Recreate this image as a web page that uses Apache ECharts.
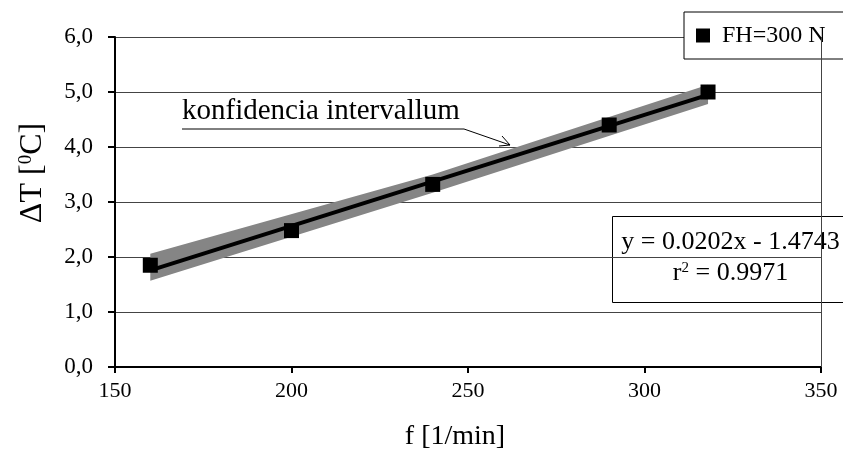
<!DOCTYPE html>
<html>
<head>
<meta charset="utf-8">
<script src="https://cdn.jsdelivr.net/npm/echarts@6/dist/echarts.min.js"></script>
<style>
  html, body { margin: 0; padding: 0; background: #fff; }
  #chart { width: 843px; height: 453px; }
</style>
</head>
<body>
<div id="chart"></div>
<script>
// Measured points: frequency f [1/min] vs temperature rise ΔT [°C]
const freq = [160, 200, 240, 290, 318];
const deltaT = [1.85, 2.48, 3.32, 4.40, 5.00];

// Linear fit y = a·x + b
const slope = 0.0202;
const intercept = -1.4743;
const rSquared = 0.9971;
const fitRange = [160, 318];

// Confidence band around the fit (lower / upper bound)
const bandX = [160, 240, 318];
const bandLow = [1.57, 3.17, 4.78];
const bandHigh = [2.06, 3.50, 5.13];

// Axis ticks
const xTicks = [150, 200, 250, 300, 350];
const yTicks = [0, 1, 2, 3, 4, 5, 6];

const serif = "'Liberation Serif', 'Times New Roman', serif";

const chart = echarts.init(document.getElementById('chart'), null, { renderer: 'canvas' });

const fitData = fitRange.map(x => [x, +(slope * x + intercept).toFixed(4)]);
const bandData = bandX.map((x, i) => [x, bandLow[i], bandHigh[i]]);

chart.setOption({
  animation: false,
  backgroundColor: '#fff',
  grid: { left: 115, right: 22, top: 37, bottom: 86, show: false },
  legend: {
    data: [{ name: 'FH=300 N', icon: 'rect' }],
    left: 684, top: 12,
    itemWidth: 14, itemHeight: 14, itemGap: 6,
    padding: [10, 40, 10, 12],
    borderColor: '#000', borderWidth: 1,
    backgroundColor: '#fff',
    textStyle: { fontFamily: serif, fontSize: 24, lineHeight: 27, color: '#000', padding: [0, 0, 0, 7] }
  },
  xAxis: {
    type: 'value',
    min: xTicks[0], max: xTicks[xTicks.length - 1], interval: 50,
    axisLine: { show: true, onZero: false, lineStyle: { color: '#000', width: 2 } },
    axisTick: { show: true, inside: false, length: 6, lineStyle: { color: '#000', width: 2 } },
    axisLabel: { fontFamily: serif, fontSize: 22, color: '#000', margin: 13 },
    splitLine: { show: false }
  },
  yAxis: {
    type: 'value',
    min: yTicks[0], max: yTicks[yTicks.length - 1], interval: 1,
    axisLine: { show: true, onZero: false, lineStyle: { color: '#000', width: 2 } },
    axisTick: { show: true, inside: false, length: 7, lineStyle: { color: '#000', width: 2 } },
    axisLabel: {
      fontFamily: serif, fontSize: 23, color: '#000', margin: 22,
      formatter: v => v.toFixed(1).replace('.', ',')
    },
    splitLine: { show: true, lineStyle: { color: '#444', width: 1 } }
  },
  series: [
    {
      // plot area right border
      type: 'line', silent: true, symbol: 'none',
      data: [],
      markLine: {
        silent: true, symbol: 'none', label: { show: false },
        lineStyle: { color: '#444', width: 1, type: 'solid' },
        data: [[{ coord: [350, 0] }, { coord: [350, 6] }]]
      }
    },
    {
      type: 'custom',
      name: 'band',
      silent: true,
      z: 2,
      data: bandData,
      renderItem: function (params, api) {
        if (params.dataIndex !== 0) return;
        const upper = bandData.map(d => api.coord([d[0], d[2]]));
        const lower = bandData.map(d => api.coord([d[0], d[1]])).reverse();
        return {
          type: 'polygon',
          shape: { points: upper.concat(lower) },
          style: { fill: '#858585' }
        };
      }
    },
    {
      type: 'line',
      name: 'fit',
      data: fitData,
      symbol: 'none',
      z: 3,
      lineStyle: { color: '#000', width: 4 }
    },
    {
      type: 'scatter',
      name: 'FH=300 N',
      data: freq.map((x, i) => [x, deltaT[i]]),
      symbol: 'rect',
      symbolSize: 15,
      z: 4,
      itemStyle: { color: '#000', opacity: 1 }
    }
  ],
  graphic: [
    // axis titles
    {
      type: 'text', x: 33, y: 173, rotation: Math.PI / 2,
      style: {
        text: '{n|ΔT [}{s|0}{n|C]}',
        align: 'center', verticalAlign: 'middle',
        rich: {
          n: { font: '32px ' + serif, fill: '#000' },
          s: { font: '19px ' + serif, fill: '#000', verticalAlign: 'top', padding: [0, 0, 14, 0] }
        }
      }
    },
    {
      type: 'text', x: 455, y: 437,
      style: { text: 'f [1/min]', font: '28px ' + serif, fill: '#000', align: 'center', verticalAlign: 'middle' }
    },
    // regression equation box
    {
      type: 'group', left: 612, top: 216,
      children: [
        { type: 'rect', shape: { x: 0, y: 0, width: 260, height: 86 },
          style: { fill: '#fff', stroke: '#000', lineWidth: 1 } },
        { type: 'text', x: 118, y: 26,
          style: { text: 'y = ' + slope.toFixed(4) + 'x - ' + Math.abs(intercept).toFixed(4),
                   font: '26px ' + serif, fill: '#000', align: 'center', verticalAlign: 'middle' } },
        { type: 'text', x: 118, y: 57,
          style: {
            text: '{n|r}{s|2}{n| = ' + rSquared.toFixed(4) + '}',
            align: 'center', verticalAlign: 'middle',
            rich: {
              n: { font: '26px ' + serif, fill: '#000' },
              s: { font: '15px ' + serif, fill: '#000', verticalAlign: 'top', padding: [0, 0, 10, 0] }
            }
          } }
      ]
    },
    // confidence band annotation with leader line
    {
      type: 'text', x: 182, y: 111,
      style: { text: 'konfidencia intervallum', font: '29px ' + serif, fill: '#000', verticalAlign: 'middle' }
    },
    {
      type: 'polyline',
      shape: { points: [[182, 129], [464, 129], [510, 145]] },
      style: { stroke: '#000', lineWidth: 1, fill: null }
    },
    {
      type: 'polyline',
      shape: { points: [[502, 136], [510, 145], [499, 146]] },
      style: { stroke: '#000', lineWidth: 1, fill: null }
    }
  ]
});
</script>
</body>
</html>
